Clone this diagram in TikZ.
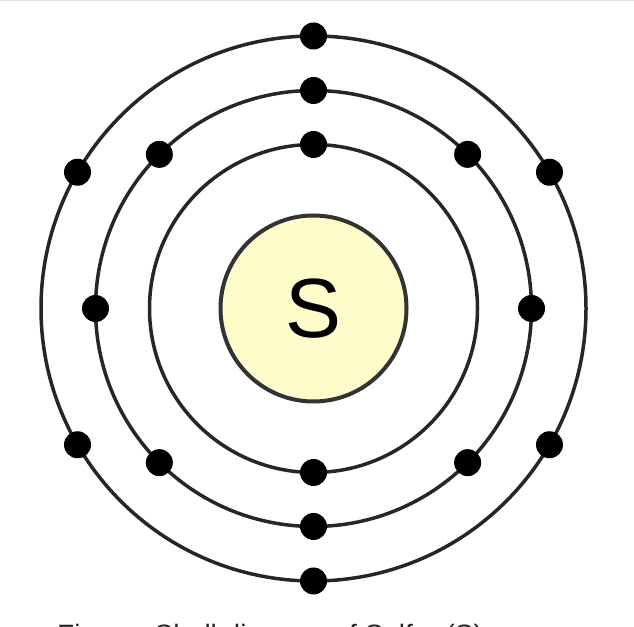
\documentclass[tikz,border=0pt]{standalone}
\usepackage{fontspec}
\setmainfont{Liberation Sans}
\tikzset{
  shell/.style={draw=black!85, line width=3.5pt},
  nucleus/.style={circle, draw=black!80, line width=4pt, fill=yellow!20,
    minimum size=186pt, inner sep=0pt, font=\fontsize{84}{84}\selectfont},
  electron/.style={circle, fill=black, minimum size=27pt, inner sep=0pt},
  caption/.style={anchor=base west, inner sep=0pt, text=black!85,
    font=\fontsize{28}{28}\selectfont},
}
\begin{document}
\begin{tikzpicture}[x=1pt,y=1pt]
  \useasboundingbox (0,0) rectangle (634,626);
  \clip (0,0) rectangle (634,626);
  \draw[black!12, line width=2pt] (0,626) -- (634,626);
  \coordinate (c) at (313.5,317.5);
  % shells
  \foreach \r in {164,218,272.5}
    \draw[shell] (c) circle (\r);
  \node[nucleus] (S) at (c) {S};
  % electrons: 2, 8, 6
  \foreach \a [count=\i] in {90,270}
    \node[electron] (ea\i) at ([shift={(\a:164)}]c) {};
  \foreach \a [count=\i] in {0,45,...,315}
    \node[electron] (eb\i) at ([shift={(\a:218)}]c) {};
  \foreach \a [count=\i] in {30,90,...,330}
    \node[electron] (ec\i) at ([shift={(\a:272.5)}]c) {};
  \node[caption] (cap) at (57,-18) {Figure: Shell diagram of Sulfur (S)};
\end{tikzpicture}
\end{document}
